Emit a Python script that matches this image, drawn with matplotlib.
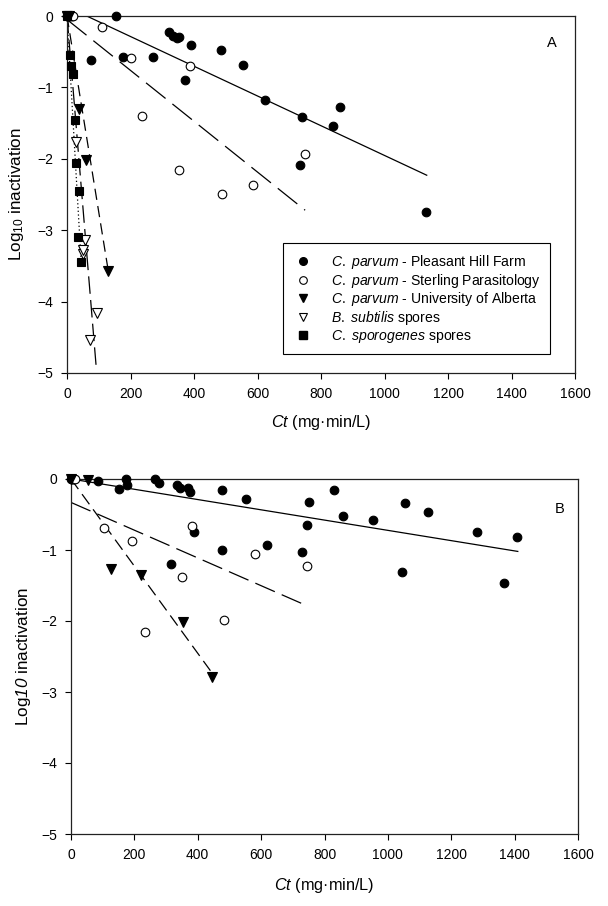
import matplotlib
matplotlib.use("Agg")
import matplotlib.pyplot as plt
from matplotlib.lines import Line2D

plt.rcParams['font.family'] = ['Liberation Sans', 'DejaVu Sans']
plt.rcParams['mathtext.fontset'] = 'custom'
plt.rcParams['mathtext.rm'] = 'Liberation Sans'
plt.rcParams['mathtext.it'] = 'Liberation Sans:italic'
plt.rcParams['mathtext.sf'] = 'Liberation Sans:italic'
plt.rcParams['mathtext.bf'] = 'Liberation Sans:bold'

# ---------------- Panel A data ----------------
a_phf_ct = [0, 5, 10, 75, 154, 177, 271, 321, 335, 345, 354, 372, 390, 484, 555, 624, 735, 739, 837, 861, 1131]
a_phf_log = [0, 0, 0, -0.62, 0, -0.58, -0.58, -0.22, -0.28, -0.31, -0.30, -0.89, -0.41, -0.48, -0.69, -1.17, -2.09, -1.42, -1.54, -1.28, -2.75]

a_sp_ct = [15, 20, 109, 201, 237, 354, 387, 487, 585, 751]
a_sp_log = [0, 0, -0.16, -0.59, -1.40, -2.16, -0.70, -2.49, -2.36, -1.93]

a_ua_ct = [0, 5, 39, 60, 130]
a_ua_log = [0, 0, -1.30, -2.01, -3.57]

a_bs_ct = [0, 28, 49, 51, 57, 72, 94]
a_bs_log = [0, -1.76, -3.34, -3.28, -3.14, -4.54, -4.16]

a_cs_ct = [0, 9, 13, 20, 26, 28, 36, 38, 44]
a_cs_log = [0, -0.54, -0.70, -0.81, -1.45, -2.06, -3.10, -2.45, -3.44]

# regression lines (endpoints)
a_fit_phf_ct = [62, 1133]
a_fit_phf_log = [0, -2.23]
a_fit_sp_ct = [0, 750]
a_fit_sp_log = [-0.05, -2.72]
a_fit_ua_ct = [0, 130]
a_fit_ua_log = [0, -3.57]
a_fit_bs_ct = [0, 93]
a_fit_bs_log = [0, -4.97]
a_fit_cs_ct = [0, 44]
a_fit_cs_log = [0, -3.40]

# ---------------- Panel B data ----------------
b_phf_ct = [0, 3, 84, 151, 173, 178, 265, 277, 317, 333, 343, 369, 377, 388, 475, 478, 551, 617,
            730, 745, 751, 831, 857, 954, 1045, 1053, 1128, 1281, 1367, 1406]
b_phf_log = [0, 0, -0.03, -0.14, 0.0, -0.09, 0.0, -0.06, -1.20, -0.08, -0.13, -0.12, -0.19, -0.74, -0.15, -1.00, -0.28, -0.93,
             -1.03, -0.65, -0.33, -0.15, -0.52, -0.58, -1.31, -0.34, -0.46, -0.74, -1.46, -0.82]

b_sp_ct = [5, 9, 13, 105, 194, 233, 350, 382, 483, 580, 746]
b_sp_log = [0, 0, 0, -0.69, -0.87, -2.16, -1.38, -0.66, -1.98, -1.05, -1.22]

b_ua_ct = [0, 55, 126, 220, 352, 446]
b_ua_log = [0, -0.01, -1.27, -1.35, -2.01, -2.79]

b_fit_phf_ct = [0, 1410]
b_fit_phf_log = [0, -1.02]
b_fit_sp_ct = [0, 747]
b_fit_sp_log = [-0.33, -1.79]
b_fit_ua_ct = [0, 440]
b_fit_ua_log = [0, -2.70]

x_ticks = [0, 200, 400, 600, 800, 1000, 1200, 1400, 1600]
y_ticks = [0, -1, -2, -3, -4, -5]

labels = ["$\\it{C.\\ parvum}$ - Pleasant Hill Farm",
          "$\\it{C.\\ parvum}$ - Sterling Parasitology",
          "$\\it{C.\\ parvum}$ - University of Alberta",
          "$\\it{B.\\ subtilis}$ spores",
          "$\\it{C.\\ sporogenes}$ spores"]

fig = plt.figure(figsize=(6.08, 9.06), dpi=100)
axA = fig.add_axes([67/608, 1-373/906, (575-67)/608, (373-16)/906])
axB = fig.add_axes([71/608, 1-834/906, (578-71)/608, (834-479)/906])

ms = 6.2
lw = 0.9

def style_axes(ax):
    ax.set_xlim(0, 1600)
    ax.set_ylim(-5, 0)
    ax.set_xticks(x_ticks)
    ax.set_yticks(y_ticks)
    ax.tick_params(direction='out', length=4, width=0.8, labelsize=10, pad=6)
    for s in ax.spines.values():
        s.set_linewidth(0.9)
        s.set_color('#222222')

def pts(ax, x, y, marker, face, size=ms):
    ax.plot(x, y, linestyle='none', marker=marker, markersize=size,
            markerfacecolor=face, markeredgecolor='black', markeredgewidth=0.8,
            clip_on=False, zorder=3)

# Panel A
axA.plot(a_fit_phf_ct, a_fit_phf_log, color='black', lw=lw)
axA.plot(a_fit_sp_ct, a_fit_sp_log, color='black', lw=lw, dashes=(20, 7))
axA.plot(a_fit_ua_ct, a_fit_ua_log, color='black', lw=lw, dashes=(9, 5))
axA.plot(a_fit_bs_ct, a_fit_bs_log, color='black', lw=lw, dashes=(14, 5))
axA.plot(a_fit_cs_ct, a_fit_cs_log, color='black', lw=lw, dashes=(1, 2))
pts(axA, a_phf_ct, a_phf_log, 'o', 'black')
pts(axA, a_sp_ct, a_sp_log, 'o', 'white')
pts(axA, a_ua_ct, a_ua_log, 'v', 'black', 7)
pts(axA, a_bs_ct, a_bs_log, 'v', 'white', 7)
pts(axA, a_cs_ct, a_cs_log, 's', 'black')
style_axes(axA)
axA.set_xlabel("$\\it{Ct}$ (mg\u00b7min/L)", fontsize=11.7, labelpad=9)
axA.set_ylabel("Log$_{10}$ inactivation", fontsize=12.3, labelpad=8)
axA.text(552/608, 1-43/906, "A", transform=fig.transFigure, fontsize=10.5, ha='center', va='center')

handles = [
    Line2D([], [], linestyle='none', marker='o', markersize=5.5, mfc='black', mec='black'),
    Line2D([], [], linestyle='none', marker='o', markersize=5.5, mfc='white', mec='black', mew=0.8),
    Line2D([], [], linestyle='none', marker='v', markersize=6, mfc='black', mec='black'),
    Line2D([], [], linestyle='none', marker='v', markersize=6, mfc='white', mec='black', mew=0.8),
    Line2D([], [], linestyle='none', marker='s', markersize=5.5, mfc='black', mec='black'),
]
leg = axA.legend(handles, labels, loc='upper left', bbox_to_anchor=(0.425, 0.364),
                 frameon=True, fancybox=False, framealpha=1, edgecolor='black',
                 fontsize=10.1, labelspacing=0.05, handletextpad=1.2, borderpad=0.7,
                 handlelength=1.5, borderaxespad=0)
leg.get_frame().set_linewidth(0.8)

# Panel B
axB.plot(b_fit_phf_ct, b_fit_phf_log, color='black', lw=lw)
axB.plot(b_fit_sp_ct, b_fit_sp_log, color='black', lw=lw, dashes=(17, 6))
axB.plot(b_fit_ua_ct, b_fit_ua_log, color='black', lw=lw, dashes=(10, 5))
pts(axB, b_phf_ct, b_phf_log, 'o', 'black')
pts(axB, b_sp_ct, b_sp_log, 'o', 'white')
pts(axB, b_ua_ct, b_ua_log, 'v', 'black', 7)
style_axes(axB)
axB.set_xlabel("$\\it{Ct}$ (mg\u00b7min/L)", fontsize=11.7, labelpad=10)
axB.set_ylabel("Log$\\mathsf{10}$ inactivation", fontsize=12.3, labelpad=6)
axB.text(560/608, 1-509/906, "B", transform=fig.transFigure, fontsize=10.5, ha='center', va='center')

fig.savefig("out.png", dpi=100)
